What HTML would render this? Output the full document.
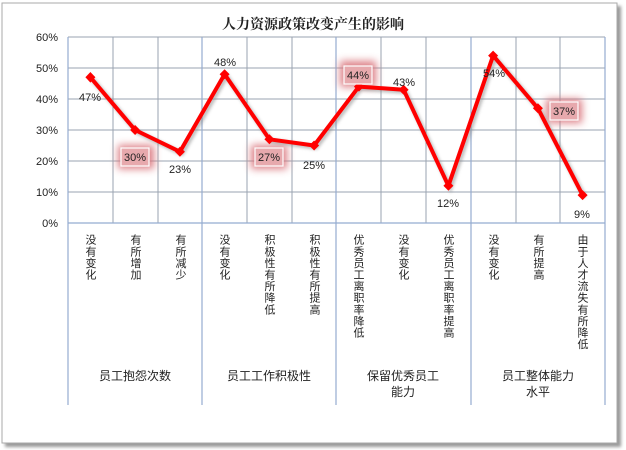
<!DOCTYPE html>
<html><head><meta charset="utf-8"><style>
body{margin:0;background:#fff;width:626px;height:450px;overflow:hidden}
svg{display:block}
text{font-family:"Liberation Sans","Noto Sans CJK SC",sans-serif;fill:#222}
.v{writing-mode:vertical-rl;letter-spacing:0.6px}
</style></head><body>
<svg width="626" height="450" viewBox="0 0 626 450">
<defs>
<filter id="g" x="-50%" y="-50%" width="200%" height="200%"><feGaussianBlur stdDeviation="4"/></filter>
<filter id="s" x="-10%" y="-10%" width="120%" height="120%"><feGaussianBlur stdDeviation="1.5"/></filter>
</defs>
<rect x="5" y="6" width="616" height="441" fill="#999" filter="url(#s)"/>
<rect x="2" y="3" width="615" height="440" fill="#fff" stroke="#aaa"/>
<text x="313" y="29" text-anchor="middle" font-size="14" font-weight="bold" style="font-family:'Noto Serif CJK SC',serif">人力资源政策改变产生的影响</text>
<g stroke="#9aa3b0" stroke-width="1">
<line x1="68" y1="37" x2="605" y2="37"/><line x1="68" y1="68" x2="605" y2="68"/><line x1="68" y1="99" x2="605" y2="99"/><line x1="68" y1="130" x2="605" y2="130"/><line x1="68" y1="161" x2="605" y2="161"/><line x1="68" y1="192" x2="605" y2="192"/>
<line x1="113" y1="37" x2="113" y2="223"/><line x1="158" y1="37" x2="158" y2="223"/><line x1="247" y1="37" x2="247" y2="223"/><line x1="292" y1="37" x2="292" y2="223"/><line x1="381" y1="37" x2="381" y2="223"/><line x1="426" y1="37" x2="426" y2="223"/><line x1="516" y1="37" x2="516" y2="223"/><line x1="560" y1="37" x2="560" y2="223"/>
</g>
<g stroke="#95acd0" stroke-width="1.2">
<line x1="68" y1="37" x2="68" y2="405"/><line x1="202" y1="37" x2="202" y2="405"/><line x1="336" y1="37" x2="336" y2="405"/><line x1="471" y1="37" x2="471" y2="405"/><line x1="605" y1="37" x2="605" y2="405"/>
<line x1="68" y1="223" x2="605" y2="223"/>
</g>
<g font-size="11" text-anchor="end">
<text x="58" y="41">60%</text><text x="58" y="72">50%</text><text x="58" y="103">40%</text><text x="58" y="134">30%</text><text x="58" y="165">20%</text><text x="58" y="196">10%</text><text x="58" y="227">0%</text>
</g>
<g fill="#d9737a" filter="url(#g)" opacity="0.9">
<rect x="118" y="145" width="36" height="24"/><rect x="251" y="145" width="36" height="24"/><rect x="340" y="61" width="36" height="26"/><rect x="546" y="99" width="36" height="24"/>
</g>
<polyline points="90.4,77.3 135.1,130 179.9,151.7 224.6,74.2 269.4,139.3 314.1,145.5 358.9,86.6 403.6,89.7 448.4,185.8 493.1,55.6 537.9,108.3 582.6,195.1" fill="none" stroke="#888" stroke-width="4" transform="translate(2,2)" filter="url(#s)" opacity="0.6"/>
<polyline points="90.4,77.3 135.1,130 179.9,151.7 224.6,74.2 269.4,139.3 314.1,145.5 358.9,86.6 403.6,89.7 448.4,185.8 493.1,55.6 537.9,108.3 582.6,195.1" fill="none" stroke="#f00" stroke-width="4" stroke-linejoin="round"/>
<g fill="#f00">
<path d="M90.4 72l5 5.3-5 5.3-5-5.3z"/><path d="M135.1 125l5 5-5 5-5-5z"/><path d="M179.9 146.7l5 5-5 5-5-5z"/><path d="M224.6 69.2l5 5-5 5-5-5z"/><path d="M269.4 134.3l5 5-5 5-5-5z"/><path d="M314.1 140.5l5 5-5 5-5-5z"/><path d="M358.9 81.6l5 5-5 5-5-5z"/><path d="M403.6 84.7l5 5-5 5-5-5z"/><path d="M448.4 180.8l5 5-5 5-5-5z"/><path d="M493.1 50.6l5 5-5 5-5-5z"/><path d="M537.9 103.3l5 5-5 5-5-5z"/><path d="M582.6 190.1l5 5-5 5-5-5z"/>
</g>
<g fill="#e7a9ad" stroke="#fff" stroke-width="1.2">
<rect x="121" y="148" width="28" height="18"/><rect x="255" y="148" width="28" height="18"/><rect x="344" y="66" width="28" height="18"/><rect x="550" y="102" width="28" height="18"/>
</g>
<g font-size="11" text-anchor="middle">
<text x="90" y="101">47%</text><text x="135" y="161">30%</text><text x="180" y="173">23%</text><text x="225" y="66">48%</text><text x="269" y="161">27%</text><text x="314" y="169">25%</text><text x="358" y="79">44%</text><text x="404" y="86">43%</text><text x="448" y="207">12%</text><text x="494" y="77">54%</text><text x="564" y="115">37%</text><text x="582" y="218">9%</text>
</g>
<g font-size="11" text-anchor="start" style="font-family:'Noto Sans CJK SC',sans-serif" fill="#333">
<text class="v" x="90" y="234">没有变化</text>
<text class="v" x="135" y="234">有所增加</text>
<text class="v" x="180" y="234">有所减少</text>
<text class="v" x="224" y="234">没有变化</text>
<text class="v" x="269" y="234">积极性有所降低</text>
<text class="v" x="314" y="234">积极性有所提高</text>
<text class="v" x="358" y="234">优秀员工离职率降低</text>
<text class="v" x="403" y="234">没有变化</text>
<text class="v" x="448" y="234">优秀员工离职率提高</text>
<text class="v" x="493" y="234">没有变化</text>
<text class="v" x="538" y="234">有所提高</text>
<text class="v" x="582" y="234">由于人才流失有所降低</text>
</g>
<g font-size="12" text-anchor="middle" style="font-family:'Noto Sans CJK SC',sans-serif" fill="#333">
<text x="135" y="380">员工抱怨次数</text>
<text x="269" y="380">员工工作积极性</text>
<text x="403" y="380">保留优秀员工</text><text x="403" y="396">能力</text>
<text x="538" y="380">员工整体能力</text><text x="538" y="396">水平</text>
</g>
</svg>
</body></html>
